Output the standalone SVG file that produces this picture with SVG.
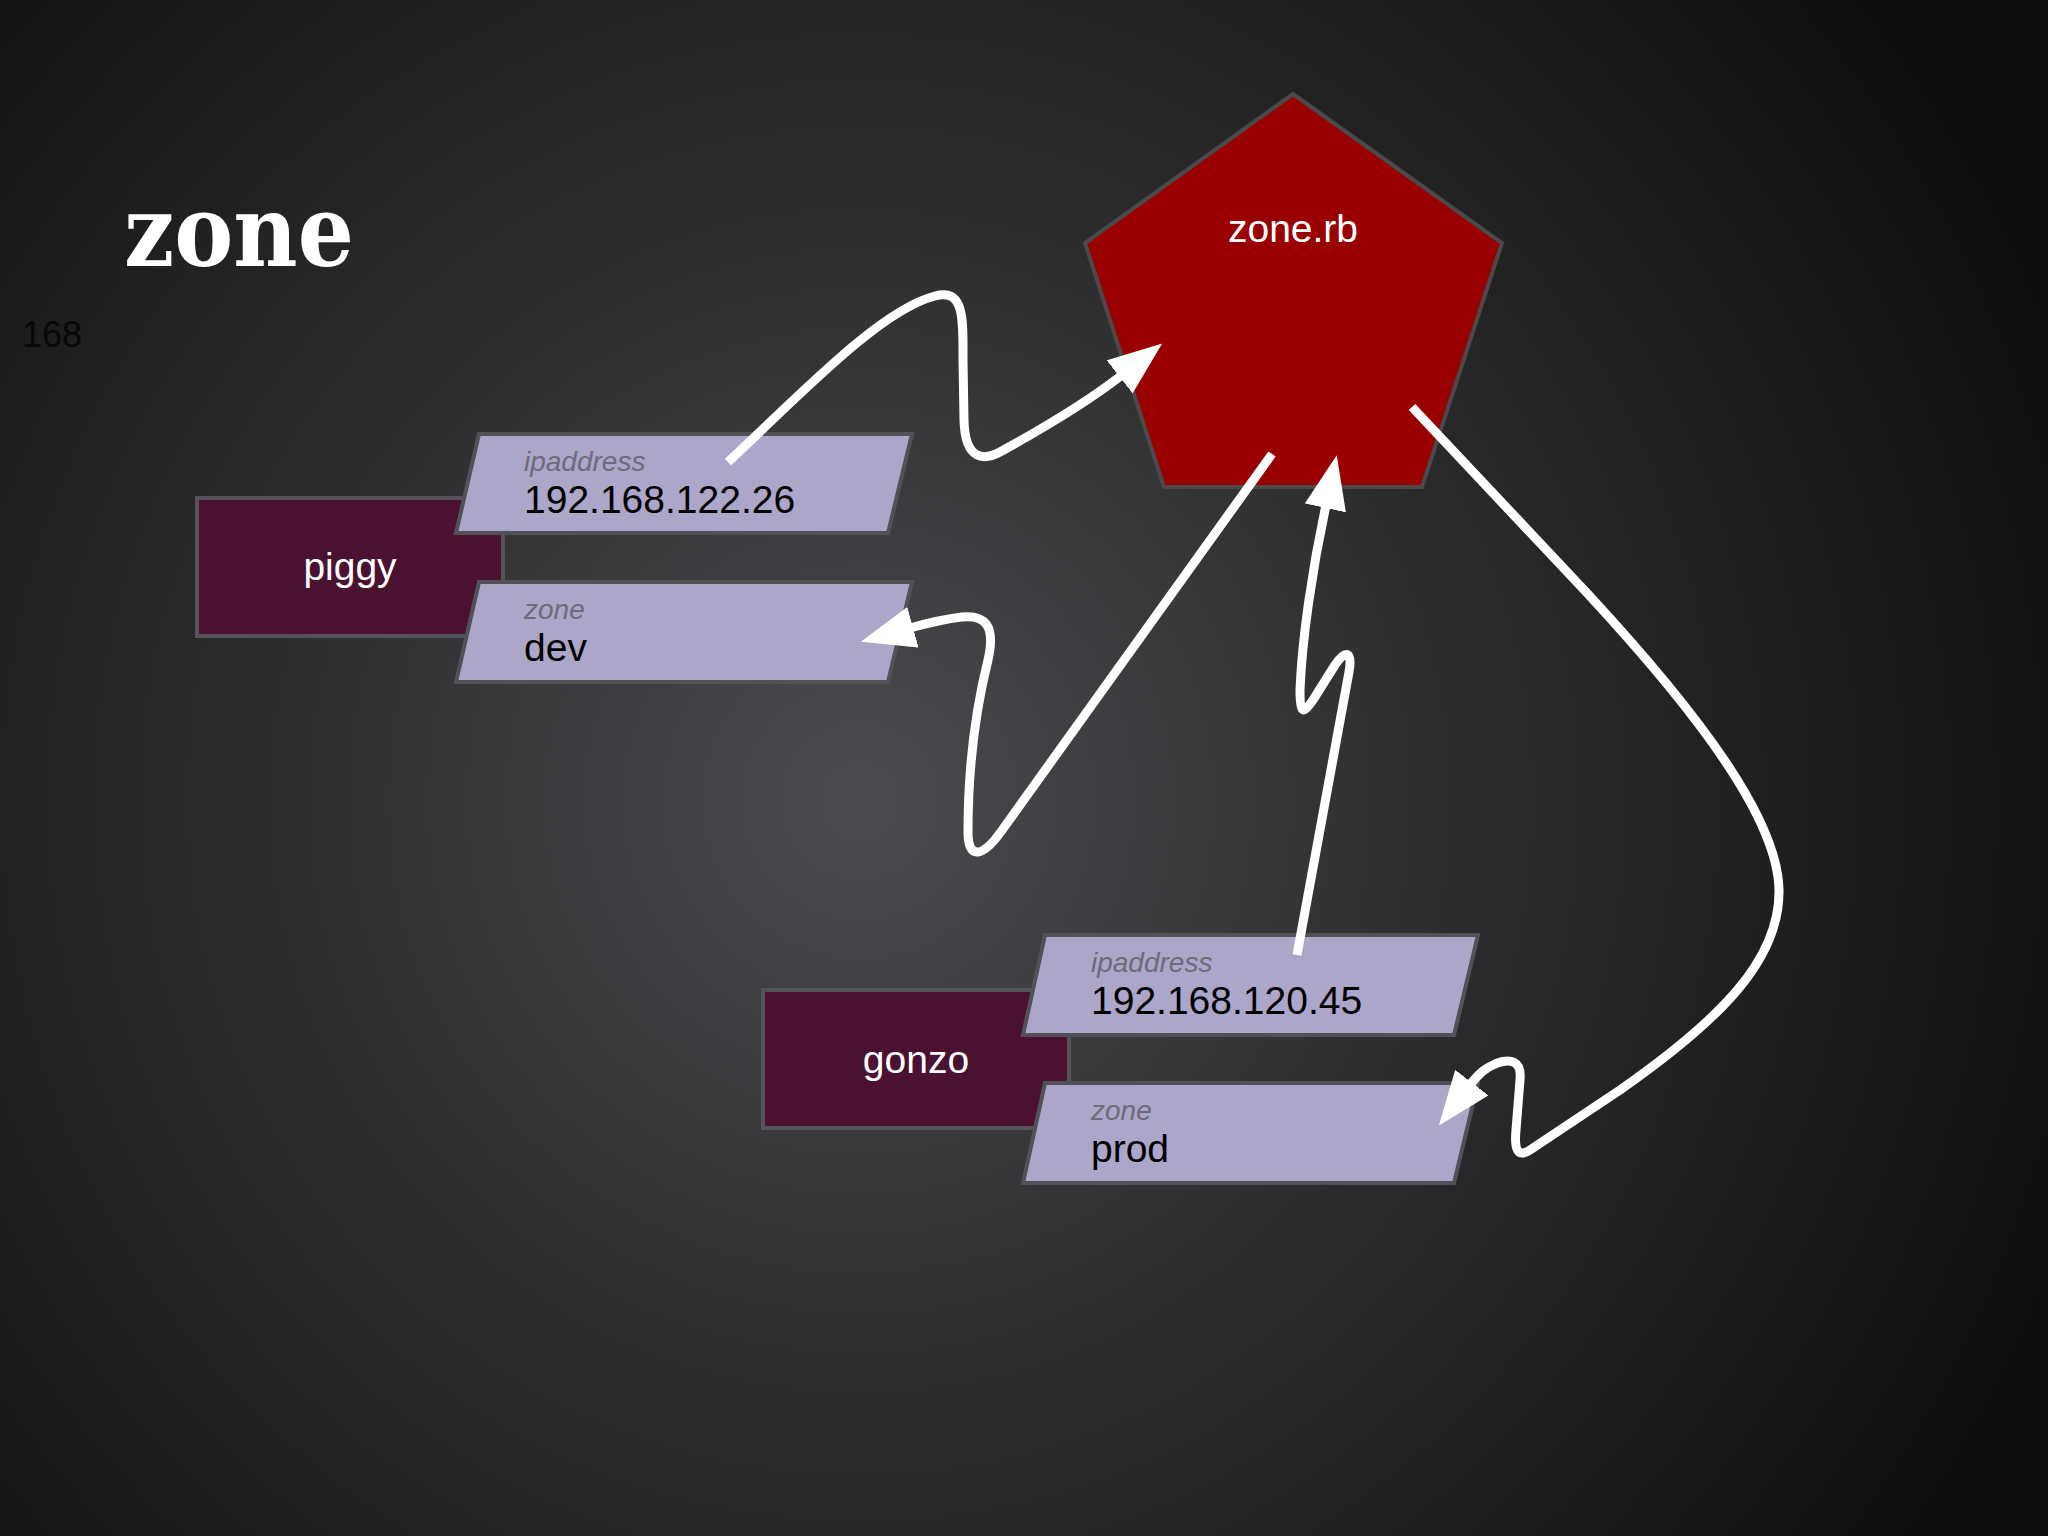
<svg xmlns="http://www.w3.org/2000/svg" width="2048" height="1536" viewBox="0 0 2048 1536">
<defs>
<radialGradient id="bg" cx="860" cy="800" r="1300" gradientUnits="userSpaceOnUse">
<stop offset="0" stop-color="#4b4a4e"/>
<stop offset="0.5" stop-color="#2a2a2c"/>
<stop offset="1" stop-color="#0e0e0e"/>
</radialGradient>
<marker id="ah" viewBox="0 0 54 42" refX="3" refY="21" markerWidth="54" markerHeight="42" markerUnits="userSpaceOnUse" orient="auto">
<path d="M0,0 L54,21 L0,42 z" fill="#ffffff"/>
</marker>
<style>
.host{fill:#4b1131;stroke:#555359;stroke-width:4}
.attr{fill:#aca6c9;stroke:#535158;stroke-width:4}
.lbl{font-family:"Liberation Sans",Arial,sans-serif;font-style:italic;font-size:28px;fill:#6f6b7b}
.val{font-family:"Liberation Sans",Arial,sans-serif;font-size:39px;fill:#000000}
.name{font-family:"Liberation Sans",Arial,sans-serif;font-size:39px;fill:#ffffff;text-anchor:middle}
.conn{fill:none;stroke:#ffffff;stroke-width:9;stroke-linecap:butt;stroke-linejoin:round;marker-end:url(#ah)}
</style>
</defs>
<rect x="0" y="0" width="2048" height="1536" fill="url(#bg)"/>
<text x="124" y="266" font-family="'DejaVu Serif','Liberation Serif',serif" font-weight="bold" font-size="100" textLength="230" lengthAdjust="spacingAndGlyphs" fill="#ffffff">zone</text>
<text x="22" y="347" font-family="'Liberation Sans',Arial,sans-serif" font-size="36" fill="#080808">168</text>

<g id="zone-rb">
<polygon points="1293,94 1502,243 1422,487 1164,487 1085,243" fill="#990000" stroke="#4a4a4c" stroke-width="4"/>
<text class="name" x="1293" y="242">zone.rb</text>
</g>

<g id="piggy">
<rect class="host" x="197" y="498" width="306" height="138"/>
<text class="name" x="350" y="580">piggy</text>
</g>
<g id="piggy-ipaddress">
<polygon class="attr" points="479,434 912,434 888,533 456,533"/>
<text class="lbl" x="524" y="471">ipaddress</text>
<text class="val" x="524" y="513">192.168.122.26</text>
</g>
<g id="piggy-zone">
<polygon class="attr" points="479,582 912,582 888,682 456,682"/>
<text class="lbl" x="524" y="619">zone</text>
<text class="val" x="524" y="661">dev</text>
</g>

<g id="gonzo">
<rect class="host" x="763" y="990" width="306" height="138"/>
<text class="name" x="916" y="1073">gonzo</text>
</g>
<g id="gonzo-ipaddress">
<polygon class="attr" points="1045,935 1478,935 1454,1035 1023,1035"/>
<text class="lbl" x="1091" y="972">ipaddress</text>
<text class="val" x="1091" y="1014">192.168.120.45</text>
</g>
<g id="gonzo-zone">
<polygon class="attr" points="1045,1083 1478,1083 1454,1183 1023,1183"/>
<text class="lbl" x="1091" y="1120">zone</text>
<text class="val" x="1091" y="1162">prod</text>
</g>

<g id="connectors">
<path class="conn" d="M728,462 C800,395 880,310 935,296 C965,288 963,320 963,360 L964,420 C965,462 985,460 1000,452 C1040,430 1090,400 1122,375"/>
<path class="conn" d="M1272,454 L1000,833 C984,855 968,862 968,832 C968,760 978,700 988,660 C996,625 985,615 962,617 C945,619 928,623 910,628"/>
<path class="conn" d="M1297,955 L1349,672 C1353,650 1345,650 1335,665 L1313,700 C1302,716 1300,712 1300,690 C1302,640 1312,570 1326,505"/>
<path class="conn" d="M1412,407 L1587,593 C1700,715 1778,820 1779,890 C1780,960 1720,1020 1620,1090 L1530,1150 C1518,1158 1514,1150 1516,1130 L1520,1080 C1522,1060 1510,1058 1495,1064 C1486,1068 1480,1072 1470,1085"/>
</g>
</svg>
